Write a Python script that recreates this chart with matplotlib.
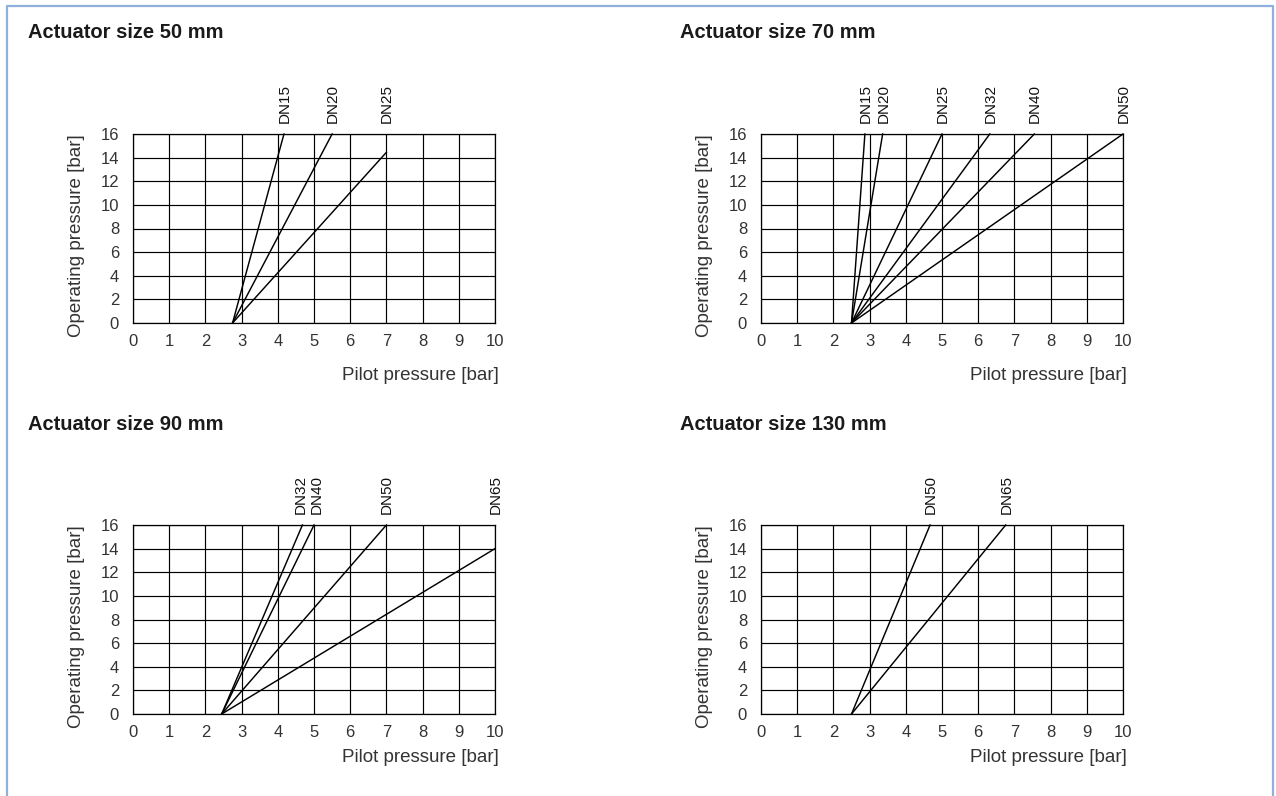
import matplotlib
matplotlib.use("Agg")
import matplotlib.pyplot as plt
from matplotlib.lines import Line2D

plt.rcParams['font.family'] = ['Liberation Sans', 'DejaVu Sans']

# chart data: each line goes from (start, 0) to (end_x, end_y)
titles = ["Actuator size 50 mm", "Actuator size 70 mm",
          "Actuator size 90 mm", "Actuator size 130 mm"]
starts = [2.75, 2.5, 2.45, 2.5]
dn_labels = [
    ["DN15", "DN20", "DN25"],
    ["DN15", "DN20", "DN25", "DN32", "DN40", "DN50"],
    ["DN32", "DN40", "DN50", "DN65"],
    ["DN50", "DN65"],
]
end_x = [
    [4.17, 5.5, 7.0],
    [2.87, 3.36, 5.0, 6.32, 7.55, 10.0],
    [4.68, 5.0, 7.0, 10.0],
    [4.67, 6.76],
]
end_y = [
    [16, 16, 14.45],
    [16, 16, 16, 16, 16, 16],
    [16, 16, 16, 14.0],
    [16, 16],
]
x_ticks = list(range(0, 11))
y_ticks = list(range(0, 17, 2))

W, H = 1276, 796
fig = plt.figure(figsize=(W / 100, H / 100), dpi=100)

# axes boxes in pixels: left, top, right, bottom
boxes = [(133, 134, 495, 323), (761, 134, 1123, 323),
         (133, 525, 495, 714), (761, 525, 1123, 714)]
title_pos = [(28, 33), (680, 33), (28, 425), (680, 425)]
xlabel_y = [376, 376, 758, 758]

for i in range(4):
    l, t, r, b = boxes[i]
    ax = fig.add_axes([l / W, 1 - b / H, (r - l) / W, (b - t) / H])
    ax.set_xlim(0, 10)
    ax.set_ylim(0, 16)
    ax.set_xticks(x_ticks)
    ax.set_yticks(y_ticks)
    ax.tick_params(length=0, labelsize=12, colors='#333333', pad=8)
    ax.tick_params(axis='y', pad=10)
    ax.grid(True, color='black', linewidth=0.85)
    for s in ax.spines.values():
        s.set_linewidth(0.9)
    ax.set_axisbelow(True)

    xs = end_x[i]
    for k, (lab, ex, ey) in enumerate(zip(dn_labels[i], xs, end_y[i])):
        ax.plot([starts[i], ex], [0, ey], color='black', linewidth=1.05,
                clip_on=False)
        # push close labels apart a little so they don't collide
        dx = 0.5
        if k + 1 < len(xs) and xs[k + 1] - ex < 0.4:
            dx -= 1.5
        if k > 0 and ex - xs[k - 1] < 0.4:
            dx += 1.5
        ax.annotate(lab, xy=(ex, 16), xytext=(dx, 8), textcoords='offset points',
                    rotation=90, ha='center', va='bottom', fontsize=11,
                    color='#111111')

    ax.text(-0.155, 1.0, "Operating pressure [bar]", transform=ax.transAxes,
            rotation=90, ha='center', va='top', fontsize=13.5, color='#333333')
    ax.text(1.012, (b - xlabel_y[i]) / (b - t), "Pilot pressure [bar]",
            transform=ax.transAxes, ha='right', va='center', fontsize=13.5,
            color='#333333')

    tx, ty = title_pos[i]
    fig.text(tx / W, 1 - ty / H, titles[i], ha='left', va='center',
             fontsize=14.5, fontweight='bold', color='#1a1a1a')

# light blue frame (left, top, right)
frame = Line2D([6.5 / W, 6.5 / W, 1273 / W, 1273 / W],
               [0, 1 - 6 / H, 1 - 6 / H, 0],
               transform=fig.transFigure, color='#8fb0dd', linewidth=1.6)
fig.add_artist(frame)

fig.savefig("out.png", dpi=100)
